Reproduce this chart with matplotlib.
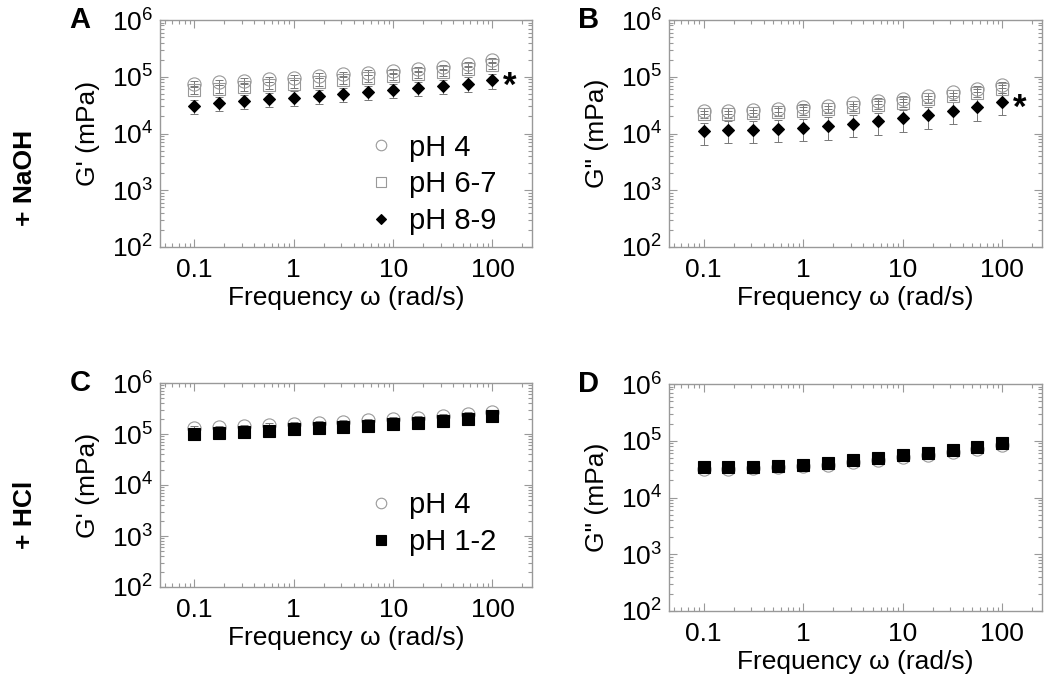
import numpy as np
import matplotlib
matplotlib.use("Agg")
import matplotlib.pyplot as plt
from matplotlib.ticker import LogLocator, NullFormatter

plt.rcParams['font.family'] = ['Liberation Sans', 'DejaVu Sans']
plt.rcParams['mathtext.fontset'] = 'custom'
plt.rcParams['mathtext.rm'] = 'Liberation Sans'
plt.rcParams['mathtext.default'] = 'regular'

# frequencies (rad/s)
freq = [0.1, 0.178, 0.316, 0.562, 1, 1.78, 3.16, 5.62, 10, 17.8, 31.6, 56.2, 100]

# + NaOH, G'
a_ph4 = [7.5e4, 8.0e4, 8.5e4, 9.0e4, 9.7e4, 1.04e5, 1.1e5, 1.18e5, 1.25e5, 1.35e5, 1.48e5, 1.65e5, 1.95e5]
a_ph67 = [5.8e4, 6.2e4, 6.6e4, 7.1e4, 7.6e4, 8.2e4, 8.8e4, 9.5e4, 1.02e5, 1.1e5, 1.2e5, 1.35e5, 1.58e5]
a_ph89 = [3.1e4, 3.4e4, 3.7e4, 4.0e4, 4.3e4, 4.6e4, 5.0e4, 5.4e4, 5.9e4, 6.3e4, 6.9e4, 7.6e4, 8.6e4]
# + NaOH, G''
b_ph4 = [2.5e4, 2.5e4, 2.6e4, 2.7e4, 2.9e4, 3.1e4, 3.4e4, 3.7e4, 4.1e4, 4.6e4, 5.3e4, 6.1e4, 7.3e4]
b_ph67 = [2.2e4, 2.2e4, 2.3e4, 2.4e4, 2.5e4, 2.7e4, 2.9e4, 3.2e4, 3.5e4, 4.0e4, 4.5e4, 5.2e4, 6.2e4]
b_ph89 = [1.1e4, 1.15e4, 1.15e4, 1.2e4, 1.25e4, 1.35e4, 1.5e4, 1.65e4, 1.85e4, 2.1e4, 2.5e4, 2.9e4, 3.6e4]
# + HCl, G'
c_ph4 = [1.3e5, 1.35e5, 1.42e5, 1.5e5, 1.58e5, 1.66e5, 1.75e5, 1.85e5, 1.96e5, 2.08e5, 2.25e5, 2.45e5, 2.7e5]
c_ph12 = [1.0e5, 1.04e5, 1.1e5, 1.17e5, 1.24e5, 1.3e5, 1.38e5, 1.46e5, 1.55e5, 1.65e5, 1.78e5, 1.95e5, 2.25e5]
# + HCl, G''
d_ph4 = [3.2e4, 3.2e4, 3.3e4, 3.4e4, 3.6e4, 3.8e4, 4.2e4, 4.6e4, 5.2e4, 5.7e4, 6.4e4, 7.2e4, 8.5e4]
d_ph12 = [3.4e4, 3.4e4, 3.5e4, 3.6e4, 3.8e4, 4.1e4, 4.5e4, 5.0e4, 5.6e4, 6.2e4, 6.9e4, 7.8e4, 9.2e4]

# relative error (fraction of value)
err_a = [0.10, 0.15, 0.28]
err_b = [0.12, 0.15, 0.42]
err_c = [0.08, 0.10]
err_d = [0.05, 0.05]

GRAY = '#999999'
FS = 19

fig = plt.figure(figsize=(10.5, 6.79), dpi=100)
W, H = 1050, 679


def make_ax(left, top, right, bottom):
    return fig.add_axes([left / W, 1 - bottom / H, (right - left) / W, (bottom - top) / H])


ax_a = make_ax(160, 20, 532, 247)
ax_b = make_ax(669, 20, 1042, 247)
ax_c = make_ax(160, 383, 532, 587)
ax_d = make_ax(669, 384, 1042, 611)


def style(ax, ylab, letter):
    ax.set_xscale('log')
    ax.set_yscale('log')
    ax.set_xlim(0.045, 250)
    ax.set_ylim(1e2, 1e6)
    for s in ax.spines.values():
        s.set_color(GRAY)
        s.set_linewidth(1)
    ax.yaxis.set_major_locator(LogLocator(base=10, numticks=10))
    ax.yaxis.set_minor_locator(LogLocator(base=10, subs=np.arange(2, 10), numticks=20))
    ax.yaxis.set_minor_formatter(NullFormatter())
    ax.xaxis.set_minor_locator(LogLocator(base=10, subs=np.arange(2, 10), numticks=20))
    ax.xaxis.set_minor_formatter(NullFormatter())
    ax.set_xticks([0.1, 1, 10, 100])
    ax.set_xticklabels(['0.1', '1', '10', '100'])
    ax.tick_params(which='both', direction='in', top=True, right=True, color=GRAY, width=0.8,
                   labelsize=FS)
    ax.tick_params(which='major', length=6)
    ax.tick_params(which='minor', length=3)
    ax.tick_params(axis='y', pad=5)
    ax.tick_params(axis='x', pad=8)
    ax.set_xlabel('Frequency ω (rad/s)', fontsize=FS)
    ax.xaxis.set_label_coords(0.5, -0.17)
    ax.set_ylabel(ylab, fontsize=FS)
    ax.yaxis.set_label_coords(-0.16, 0.5)
    ax.text(-0.215, 1.0, letter, transform=ax.transAxes, fontsize=FS + 2, fontweight='bold',
            ha='center', va='center')


def series(ax, y, rel, marker, face, edge, ms, label):
    y = np.array(y)
    ax.errorbar(freq, y, yerr=y * rel, fmt='none', ecolor='#777777', elinewidth=0.7,
                capsize=3, capthick=0.7, zorder=2)
    h, = ax.plot(freq, y, linestyle='none', marker=marker, markerfacecolor=face,
                 markeredgecolor=edge, markeredgewidth=0.8, markersize=ms, label=label, zorder=3)
    return h


style(ax_a, "G' (mPa)", 'A')
style(ax_b, 'G" (mPa)', 'B')
style(ax_c, "G' (mPa)", 'C')
style(ax_d, 'G" (mPa)', 'D')
ax_c.xaxis.set_label_coords(0.5, -0.19)

ha = [series(ax_a, a_ph4, err_a[0], 'o', 'none', GRAY, 9.5, 'pH 4'),
      series(ax_a, a_ph67, err_a[1], 's', 'none', GRAY, 9, 'pH 6-7'),
      series(ax_a, a_ph89, err_a[2], 'D', 'black', 'black', 6, 'pH 8-9')]
series(ax_b, b_ph4, err_b[0], 'o', 'none', GRAY, 9.5, 'pH 4')
series(ax_b, b_ph67, err_b[1], 's', 'none', GRAY, 9, 'pH 6-7')
series(ax_b, b_ph89, err_b[2], 'D', 'black', 'black', 6, 'pH 8-9')
hc = [series(ax_c, c_ph4, err_c[0], 'o', 'none', GRAY, 9.5, 'pH 4'),
      series(ax_c, c_ph12, err_c[1], 's', 'black', 'black', 9, 'pH 1-2')]
series(ax_d, d_ph4, err_d[0], 'o', 'none', GRAY, 9.5, 'pH 4')
series(ax_d, d_ph12, err_d[1], 's', 'black', 'black', 9, 'pH 1-2')

leg_kw = dict(loc='upper left', frameon=False, fontsize=FS + 2, handlelength=1,
              handletextpad=0.45, labelspacing=0.3, borderpad=0, borderaxespad=0,
              numpoints=1, markerscale=0.8)
ax_a.legend(handles=ha, bbox_to_anchor=(0.555, 0.50), **leg_kw)
ax_c.legend(handles=hc, bbox_to_anchor=(0.555, 0.47), **leg_kw)

# significance markers
ax_a.text(150, a_ph89[-1] * 0.78, '*', fontsize=FS + 6, fontweight='bold', ha='center', va='center')
ax_b.text(150, b_ph89[-1] * 0.78, '*', fontsize=FS + 6, fontweight='bold', ha='center', va='center')

fig.text(25 / W, 1 - 178 / H, '+ NaOH', rotation=90, fontsize=FS, fontweight='bold',
         ha='center', va='center')
fig.text(25 / W, 1 - 515 / H, '+ HCl', rotation=90, fontsize=FS, fontweight='bold',
         ha='center', va='center')

fig.savefig('out.png', dpi=100)
